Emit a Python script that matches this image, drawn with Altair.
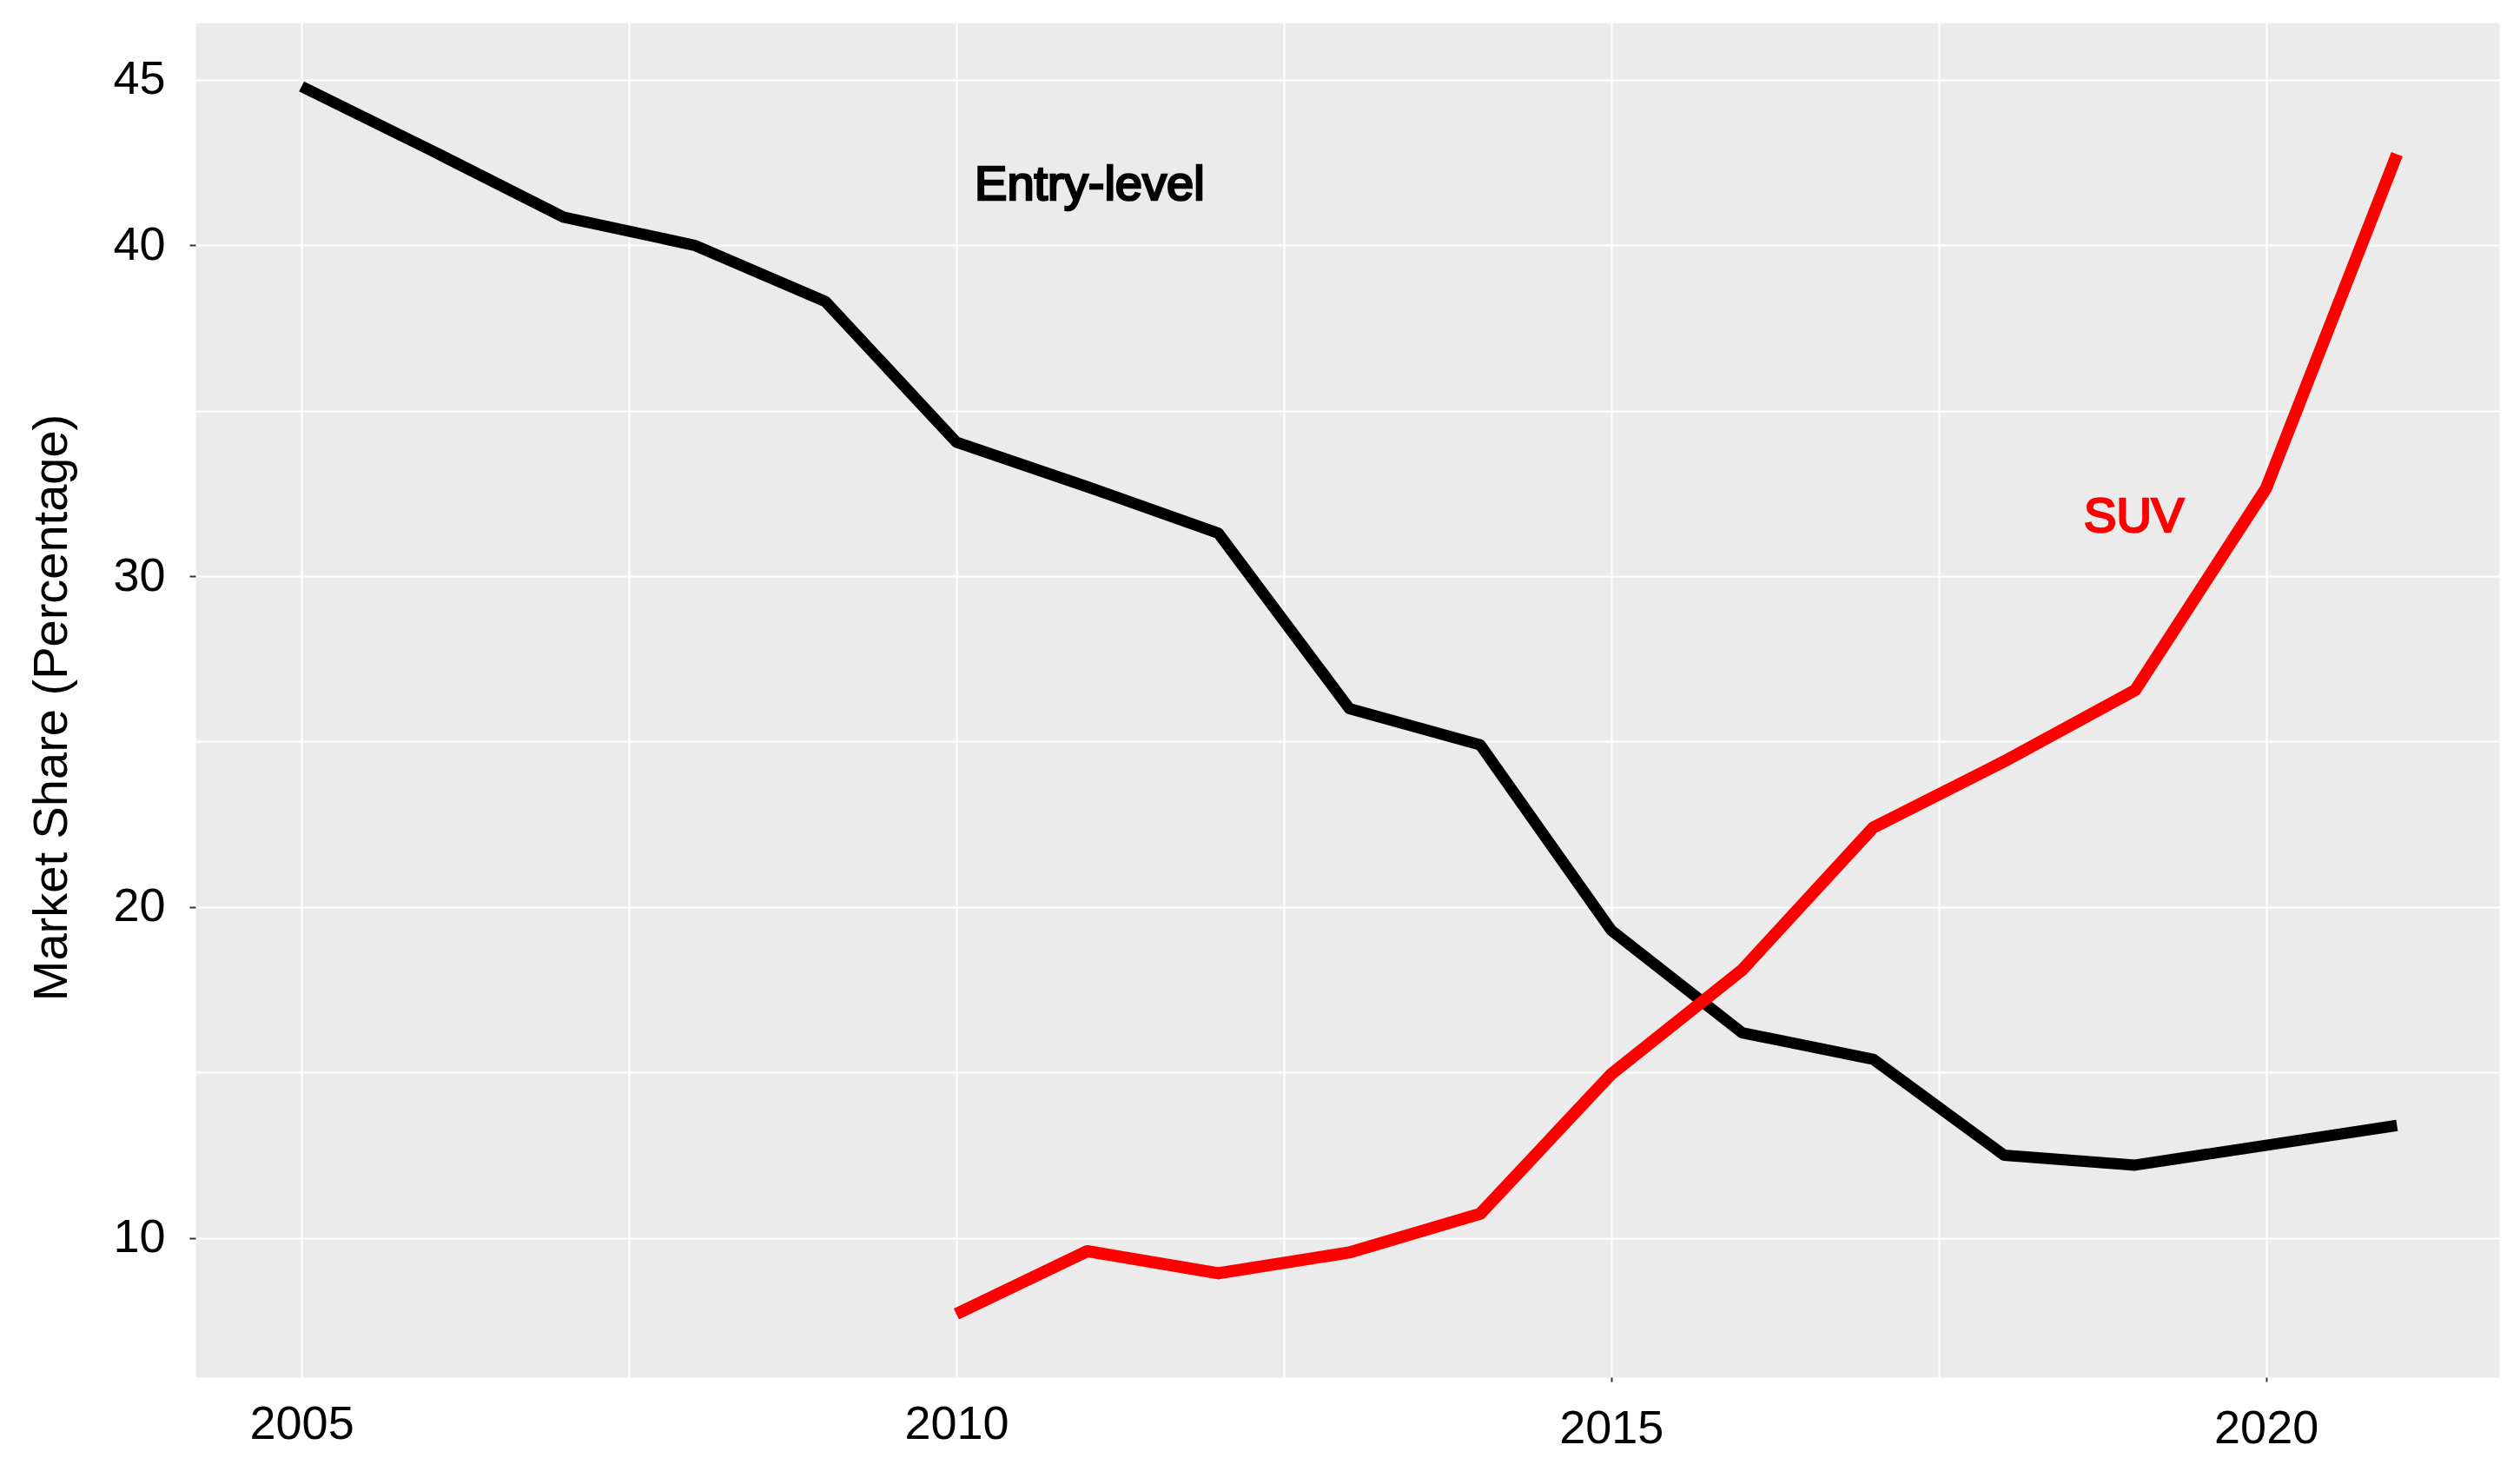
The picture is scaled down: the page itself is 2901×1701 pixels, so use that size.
import altair as alt
import pandas as pd

# ---- data ----
SERIES = ["Entry-level", "SUV"]
COLORS = ["#000000", "#FF0000"]
LINE_WIDTHS = [13, 14]

YEARS_ENTRY = list(range(2005, 2022))
ENTRY = [44.8, 42.85, 40.85, 40.0, 38.3, 34.05, 32.7, 31.3, 26.0, 24.9,
         19.3, 16.2, 15.4, 12.5, 12.2, 12.8, 13.4]

YEARS_SUV = list(range(2010, 2022))
SUV = [7.7, 9.6, 8.93, 9.56, 10.73, 14.95, 18.1, 22.4, 24.4, 26.55, 32.65, 42.75]

X_LABELS = [2005, 2010, 2015, 2020]
X_GRID = [2005, 2007.5, 2010, 2012.5, 2015, 2017.5, 2020]
Y_LABELS = [10, 20, 30, 40, 45]
Y_GRID = [10, 15, 20, 25, 30, 35, 40, 45]

ANNOT_TEXT = ["Entry-level", "SUV"]
ANNOT_X = [2010.14, 2018.61]
ANNOT_Y = [41.37, 31.34]

# ---- tables ----
lines_df = pd.concat([
    pd.DataFrame({"year": YEARS_ENTRY, "share": ENTRY, "segment": SERIES[0]}),
    pd.DataFrame({"year": YEARS_SUV, "share": SUV, "segment": SERIES[1]}),
], ignore_index=True)

annot_df = pd.DataFrame({"year": ANNOT_X, "share": ANNOT_Y,
                         "segment": SERIES, "label": ANNOT_TEXT})

FONT = "Liberation Sans"

x_lab_list = "[" + ",".join(str(v) for v in X_LABELS) + "]"
y_lab_list = "[" + ",".join(str(v) for v in Y_LABELS) + "]"

x_scale = alt.Scale(domain=[2004.19, 2021.78], nice=False, zero=False)
y_scale = alt.Scale(domain=[5.79, 46.73], nice=False, zero=False)
color_scale = alt.Scale(domain=SERIES, range=COLORS)
size_scale = alt.Scale(domain=SERIES, range=LINE_WIDTHS)

x_axis = alt.Axis(
    values=X_GRID,
    title=None,
    labelExpr=f"indexof({x_lab_list}, datum.value) >= 0 ? format(datum.value, 'd') : ''",
    labelFont=FONT, labelFontSize=54, labelColor="#000000",
    labelPadding={"condition": {"test": "datum.value >= 2015", "value": 27}, "value": 22},
    labelOverlap=False, labelFlush=False,
    tickSize=5, tickWidth=2, tickColor="#333333",
    tickOpacity={"condition": {"test": "datum.value >= 2015 && datum.value % 5 == 0", "value": 1}, "value": 0},
    grid=True, gridColor="#FFFFFF", gridWidth=2,
    domain=False,
)

y_axis = alt.Axis(
    values=Y_GRID,
    title="Market Share (Percentage)",
    titleFont=FONT, titleFontSize=56, titleFontWeight="normal", titleColor="#000000",
    titleAngle=270, titleBaseline="alphabetic", titleAlign="center",
    titleX=-149, titleY=788,
    labelExpr=f"indexof({y_lab_list}, datum.value) >= 0 ? format(datum.value, 'd') : ''",
    labelFont=FONT, labelFontSize=54, labelColor="#000000",
    labelPadding=28, labelOverlap=False, labelFlush=False,
    tickSize=7, tickWidth=2, tickColor="#333333",
    tickOpacity={"condition": {"test": "datum.value % 10 == 0", "value": 1}, "value": 0},
    grid=True, gridColor="#FFFFFF", gridWidth=2,
    domain=False,
)

lines = alt.Chart(lines_df).mark_line(
    strokeJoin="round", strokeCap="butt"
).encode(
    x=alt.X("year:Q", scale=x_scale, axis=x_axis),
    y=alt.Y("share:Q", scale=y_scale, axis=y_axis),
    color=alt.Color("segment:N", scale=color_scale, legend=None),
    size=alt.Size("segment:N", scale=size_scale, legend=None),
    detail="segment:N",
)

labels = alt.Chart(annot_df).mark_text(
    align="left", baseline="alphabetic", font=FONT, fontWeight="normal",
    fontSize=56, strokeWidth=2.6
).encode(
    x=alt.X("year:Q", scale=x_scale),
    y=alt.Y("share:Q", scale=y_scale),
    text="label:N",
    color=alt.Color("segment:N", scale=color_scale, legend=None),
    stroke=alt.Stroke("segment:N", scale=color_scale, legend=None),
)

chart = alt.layer(lines, labels).properties(
    width=2652,
    height=1559,
    autosize=alt.AutoSizeParams(type="none"),
    padding={"left": 217, "top": 18, "right": 16, "bottom": 100},
    background="#FFFFFF",
).configure_view(
    fill="#EBEBEB",
    stroke="transparent",
)

chart.save("out.html", embed_options={"renderer": "svg", "actions": False})
